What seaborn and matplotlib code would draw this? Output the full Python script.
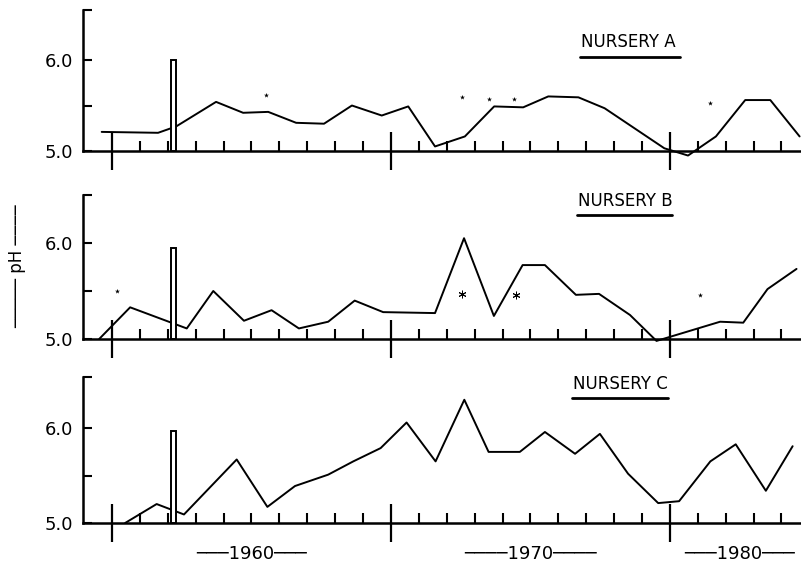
import seaborn as sns
import matplotlib.pyplot as plt
from matplotlib.lines import Line2D
from matplotlib.ticker import FixedLocator

# pH readings per nursery (year position, pH)
a_year = [1954.63, 1956.65, 1957.3, 1958.73, 1959.7, 1960.6, 1961.6, 1962.6, 1963.6, 1964.67,
          1965.62, 1966.58, 1967.65, 1968.7, 1969.74, 1970.64, 1971.72, 1972.66, 1974.8,
          1975.65, 1976.65, 1977.7, 1978.6, 1979.65]
a_ph = [5.21, 5.20, 5.27, 5.54, 5.42, 5.43, 5.31, 5.30, 5.50, 5.39,
        5.49, 5.05, 5.16, 5.49, 5.48, 5.60, 5.59, 5.47, 5.03,
        4.95, 5.16, 5.56, 5.56, 5.16]

b_year = [1954.54, 1955.65, 1957.68, 1958.63, 1959.73, 1960.72, 1961.7, 1962.75, 1963.7, 1964.72,
          1966.58, 1967.62, 1968.69, 1969.72, 1970.52, 1971.63, 1972.46, 1973.57, 1974.52,
          1976.8, 1977.63, 1978.5, 1979.54]
b_ph = [5.00, 5.33, 5.11, 5.50, 5.19, 5.30, 5.11, 5.18, 5.40, 5.28,
        5.27, 6.05, 5.24, 5.77, 5.77, 5.46, 5.47, 5.25, 4.98,
        5.18, 5.17, 5.52, 5.73]

c_year = [1955.47, 1956.6, 1957.58, 1959.47, 1960.57, 1961.56, 1962.75, 1963.65, 1964.63, 1965.56,
          1966.6, 1967.63, 1968.5, 1969.62, 1970.52, 1971.6, 1972.49, 1973.5, 1974.58, 1975.33,
          1976.45, 1977.36, 1978.44, 1979.4]
c_ph = [5.00, 5.20, 5.09, 5.67, 5.17, 5.39, 5.51, 5.65, 5.79, 6.06,
        5.65, 6.30, 5.75, 5.75, 5.96, 5.73, 5.94, 5.52, 5.21, 5.23,
        5.65, 5.83, 5.34, 5.81]

# small dot markers and asterisks
a_dot_year = [1960.52, 1967.53, 1968.52, 1969.4, 1976.45]
a_dot_ph = [5.62, 5.59, 5.57, 5.57, 5.53]
b_dot_year = [1955.17, 1976.08]
b_dot_ph = [5.50, 5.46]
b_ast_year = [1967.55, 1969.47]
b_ast_ph = [5.47, 5.46]

# narrow open bar
bar_year = 1957.2
bar_top = [6.0, 5.95, 5.97]

names = ['NURSERY A', 'NURSERY B', 'NURSERY C']
major_years = [1955, 1965, 1975]
minor_years = list(range(1956, 1980))
dash = '\u2500'
decade_labels = [dash * 3 + '1960' + dash * 3,
                 dash * 4 + '1970' + dash * 4,
                 dash * 3 + '1980' + dash * 3]
decade_pos = [1960.0, 1970.0, 1977.5]

sns.set_style('ticks')
plt.rcParams['font.family'] = ['DejaVu Sans']
for k in ['text.color', 'axes.labelcolor', 'xtick.color', 'ytick.color', 'axes.edgecolor']:
    plt.rcParams[k] = 'black'

W, H = 801, 565
fig = plt.figure(figsize=(W / 100, H / 100), dpi=100)

# axes boxes in pixels: (top, bottom), y top limit
boxes = [(10, 151), (195, 339), (377, 523)]
ytops = [6.55, 6.50, 6.54]
left_px = 83
x_lo, x_hi = 1953.96, 1979.7

series = [(a_year, a_ph), (b_year, b_ph), (c_year, c_ph)]
title_px = [(628, 42, 580, 680, 57), (625, 201, 577, 672, 215), (620, 384, 572, 668, 398)]

axes = []
for i, ((top, bot), ytop) in enumerate(zip(boxes, ytops)):
    ax = fig.add_axes([left_px / W, 1 - bot / H, (W - left_px) / W, (bot - top) / H])
    axes.append(ax)
    xs, ys = series[i]
    sns.lineplot(x=xs, y=ys, ax=ax, color='black', linewidth=1.4, clip_on=False)
    ax.bar(bar_year, bar_top[i] - 5.0, bottom=5.0, width=0.18, color='white',
           edgecolor='black', linewidth=1.4, zorder=3)

    ax.set_xlim(x_lo, x_hi)
    ax.set_ylim(5.0, ytop)
    ax.xaxis.set_major_locator(FixedLocator(major_years))
    ax.xaxis.set_minor_locator(FixedLocator(minor_years))
    ax.set_xticklabels([])
    ax.set_yticks([5.0, 5.5, 6.0, ytop])
    ax.set_yticklabels(['5.0', '', '6.0', ''])
    ax.tick_params(axis='x', which='major', direction='inout', length=27, width=1.6)
    ax.tick_params(axis='x', which='minor', direction='in', length=7, width=1.5)
    ax.tick_params(axis='y', direction='in', length=6.5, width=1.5, labelsize=13, pad=7)
    sns.despine(ax=ax)
    for s in ['left', 'bottom']:
        ax.spines[s].set_linewidth(1.8)
    ax.set_xlabel('')
    ax.set_ylabel('')

    tx, ty, ux0, ux1, uy = title_px[i]
    fig.text(tx / W, 1 - ty / H, names[i], ha='center', va='center', fontsize=12)
    fig.add_artist(Line2D([ux0 / W, ux1 / W], [1 - uy / H, 1 - uy / H], color='black', lw=2))

sns.scatterplot(x=a_dot_year, y=a_dot_ph, ax=axes[0], marker='*', s=14, color='black', linewidth=0)
sns.scatterplot(x=b_dot_year, y=b_dot_ph, ax=axes[1], marker='*', s=14, color='black', linewidth=0)
sns.scatterplot(x=b_ast_year, y=b_ast_ph, ax=axes[1], marker=(6, 2, 0), s=25, color='black', linewidth=0.7)

fig.text(17 / W, 1 - 266 / H, dash * 5 + ' pH ' + dash * 4, rotation=90,
         ha='center', va='center', fontsize=12)

for lab, pos in zip(decade_labels, decade_pos):
    axes[2].text(pos, -0.21, lab, transform=axes[2].get_xaxis_transform(),
                 ha='center', va='center', fontsize=13)

fig.savefig('out.png', dpi=100)
